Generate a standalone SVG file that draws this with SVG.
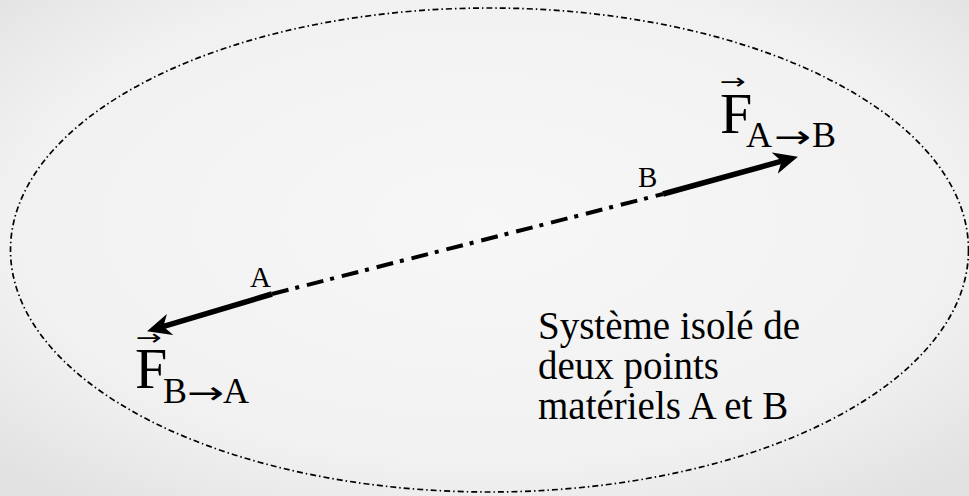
<svg xmlns="http://www.w3.org/2000/svg" width="969" height="496" viewBox="0 0 969 496">
  <defs>
    <radialGradient id="bg" cx="0.5" cy="0.45" r="0.7">
      <stop offset="0" stop-color="#f7f7f7"/>
      <stop offset="0.7" stop-color="#f1f1f1"/>
      <stop offset="1" stop-color="#e2e2e2"/>
    </radialGradient>
    <marker id="head" viewBox="0 0 24 24" refX="11" refY="12" markerWidth="24" markerHeight="24" markerUnits="userSpaceOnUse" orient="auto">
      <path d="M0,1 L24,12 L0,23 L7,12 Z" fill="#000"/>
    </marker>
    <style>
      text { font-family: "Liberation Serif", "Times New Roman", serif; fill: #000; }
      .lbl { font-size: 29px; }
      .big { font-size: 58px; }
      .sub { font-size: 36px; }
      .arr { font-family: "DejaVu Sans", sans-serif; font-size: 32px; }
      .vec { font-family: "DejaVu Sans", sans-serif; font-size: 22px; }
      .body { font-size: 39px; }
      .force { stroke: #000; stroke-width: 5.5; fill: none; marker-end: url(#head); }
    </style>
  </defs>
  <rect x="0" y="0" width="969" height="496" fill="url(#bg)"/>

  <g id="system">
    <ellipse cx="489.5" cy="250" rx="479" ry="242" fill="none" stroke="#000" stroke-width="1.7" stroke-dasharray="6 3 1.5 3"/>
  </g>

  <g id="connectors">
    <line id="axis" x1="272" y1="294" x2="663" y2="194" stroke="#000" stroke-width="4" stroke-dasharray="17 7 4 8"/>
    <line id="f-ab" class="force" x1="663" y1="194" x2="785.4" y2="160.2"/>
    <line id="f-ba" class="force" x1="272" y1="294" x2="159.5" y2="327.6"/>
  </g>

  <g id="pointA">
    <text class="lbl" x="250" y="287">A</text>
  </g>
  <g id="pointB">
    <text class="lbl" x="638" y="187">B</text>
  </g>

  <g id="label-fab">
    <text class="vec" x="720" y="89" textLength="26" lengthAdjust="spacingAndGlyphs">→</text>
    <text class="big" x="720" y="133">F</text>
    <text class="sub" x="746" y="147">A</text>
    <text class="arr" x="774" y="148" textLength="37" lengthAdjust="spacingAndGlyphs">→</text>
    <text class="sub" x="812" y="147">B</text>
  </g>

  <g id="label-fba">
    <text class="vec" x="136" y="345" textLength="26" lengthAdjust="spacingAndGlyphs">→</text>
    <text class="big" x="135" y="388">F</text>
    <text class="sub" x="163" y="403">B</text>
    <text class="arr" x="187" y="404" textLength="37" lengthAdjust="spacingAndGlyphs">→</text>
    <text class="sub" x="223" y="403">A</text>
  </g>

  <g id="caption">
    <text class="body" x="538" y="339">Système isolé de</text>
    <text class="body" x="538" y="379">deux points</text>
    <text class="body" x="538" y="419">matériels A et B</text>
  </g>
</svg>
